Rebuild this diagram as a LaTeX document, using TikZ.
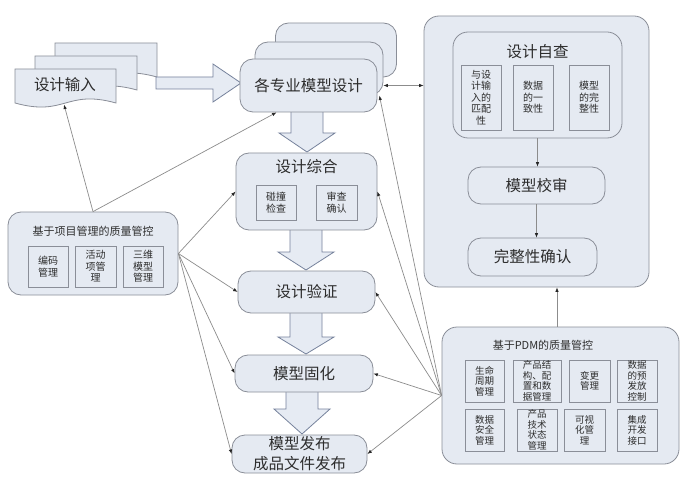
\documentclass[tikz,border=0pt]{standalone}
\usepackage{fontspec}
\setmainfont{Noto Sans CJK SC}
\usetikzlibrary{arrows.meta,calc}
\definecolor{boxfill}{RGB}{229,234,242}
\definecolor{boxline}{RGB}{138,142,152}
\definecolor{arrfill}{RGB}{230,235,243}
\definecolor{arrline}{RGB}{118,130,156}
\definecolor{lnc}{RGB}{140,140,140}
\definecolor{txt}{RGB}{45,45,45}
\begin{document}
\begin{tikzpicture}[x=1pt,y=-1pt,
  rbox/.style={draw=boxline, fill=boxfill, rounded corners=13pt, line width=0.8pt, inner sep=0pt, text=txt, align=center},
  ibox/.style={draw=boxline, fill=boxfill, line width=0.8pt, inner sep=0pt, text=txt, align=center},
  big/.style={font=\fontsize{15.5}{20}\selectfont},
  mid/.style={font=\fontsize{11}{13}\selectfont, text=txt},
  sm/.style={font=\fontsize{10}{11.5}\selectfont},
  xs/.style={font=\fontsize{9.5}{10.5}\selectfont},
  blk/.style={draw=arrline, fill=arrfill, line width=0.8pt, line join=miter},
  docst/.style={draw=boxline, fill=boxfill, line width=0.8pt},
  tipc/.tip={Latex[length=4.5pt,width=3.5pt,color=black!85]},
  conn/.style={draw=lnc, line width=0.7pt, -{tipc}},
  dconn/.style={draw=lnc, line width=0.7pt, {tipc}-{tipc}}]
\fill[white] (0,0) rectangle (680,481);
\useasboundingbox (0,0) rectangle (680,481);

% design input documents
\draw[docst] (55,43) -- (157,43) -- (157,77) .. controls (106,63) and (106,91) .. (55,77) -- cycle;
\draw[docst] (35,56) -- (137,56) -- (137,90) .. controls (86,76) and (86,104) .. (35,90) -- cycle;
\draw[docst] (15,69) -- (116,69) -- (116,103) .. controls (65.5,89) and (65.5,117) .. (15,103) -- cycle;
\node[big, text=txt] (docin) at (65,85) {设计输入};
\coordinate (docbot) at (64,104.5);

% block arrows
\draw[blk] (156,77) -- (213,77) -- (213,64) -- (241,83) -- (213,102) -- (213,89) -- (156,89) -- cycle;
\draw[blk] (291,111) -- (323,111) -- (323,133) -- (335,133) -- (307,152) -- (279,133) -- (291,133) -- cycle;
\draw[blk] (290,229) -- (322,229) -- (322,252) -- (334,252) -- (306,270) -- (278,252) -- (290,252) -- cycle;
\draw[blk] (290,312) -- (322,312) -- (322,337) -- (334,337) -- (306,354) -- (278,337) -- (290,337) -- cycle;
\draw[blk] (286,391) -- (318,391) -- (318,409) -- (330,409) -- (302,434) -- (274,409) -- (286,409) -- cycle;

% model design stack
\node[rbox, minimum width=121, minimum height=54] (mdc) at (336,50) {};
\node[rbox, minimum width=128, minimum height=53] (mdb) at (319,68.5) {};
\node[rbox, big, minimum width=137, minimum height=53] (md) at (308.5,85.5) {各专业模型设计};

% design synthesis
\node[rbox, minimum width=141, minimum height=77] (zh) at (306.5,191.5) {};
\node[big, text=txt] (zht) at (306.5,167) {设计综合};
\node[ibox, sm, minimum width=40, minimum height=35] (pz) at (276,202.5) {碰撞\\检查};
\node[ibox, sm, minimum width=41, minimum height=35] (sc) at (336.5,202.5) {审查\\确认};

\node[rbox, big, minimum width=137, minimum height=42] (yz) at (306.5,292) {设计验证};
\node[rbox, big, minimum width=138, minimum height=37] (gh) at (304,373.5) {模型固化};
\node[rbox, big, minimum width=135, minimum height=38] (fb) at (299.5,454) {模型发布\\成品文件发布};

% project management panel
\node[rbox, minimum width=170, minimum height=83] (pm) at (93,253.5) {};
\node[mid] (pmt) at (93,231) {基于项目管理的质量管控};
\node[ibox, sm, minimum width=40, minimum height=41] (bm) at (48,266.5) {编码\\管理};
\node[ibox, sm, minimum width=41, minimum height=41] (hd) at (95.5,266.5) {活动\\项管\\理};
\node[ibox, sm, minimum width=40, minimum height=41] (sw) at (143,266.5) {三维\\模型\\管理};

% right panel
\node[rbox, rounded corners=15pt, minimum width=225, minimum height=271] (rp) at (536.5,151.5) {};
\node[rbox, rounded corners=15pt, minimum width=169, minimum height=106] (zc) at (537.5,85) {};
\node[big, text=txt] (zct) at (537.5,52) {设计自查};
\node[ibox, sm, minimum width=40, minimum height=65] (pp) at (481,97.5) {与设\\计输\\入的\\匹配\\性};
\node[ibox, sm, minimum width=40, minimum height=65] (yx) at (533,97.5) {数据\\的一\\致性};
\node[ibox, sm, minimum width=40, minimum height=65] (wz) at (589,97.5) {模型\\的完\\整性};
\node[rbox, big, minimum width=137, minimum height=37] (js) at (536.5,185.5) {模型校审};
\node[rbox, big, minimum width=129, minimum height=38] (qr) at (532.5,257) {完整性确认};

% PDM panel
\node[rbox, rounded corners=15pt, minimum width=237, minimum height=137] (pdm) at (560.5,395.5) {};
\node[mid] (pdmt) at (543,345) {基于PDM的质量管控};
\node[ibox, xs, minimum width=39, minimum height=42] (p1) at (484.5,381) {生命\\周期\\管理};
\node[ibox, xs, minimum width=48, minimum height=42] (p2) at (537,381) {产品结\\构、配\\置和数\\据管理};
\node[ibox, xs, minimum width=41, minimum height=42] (p3) at (589.5,381) {变更\\管理};
\node[ibox, xs, minimum width=40, minimum height=42] (p4) at (637,381) {数据\\的预\\发放\\控制};
\node[ibox, xs, minimum width=39, minimum height=42] (p5) at (484.5,430) {数据\\安全\\管理};
\node[ibox, xs, minimum width=40, minimum height=42] (p6) at (537,430) {产品\\技术\\状态\\管理};
\node[ibox, xs, minimum width=41, minimum height=42] (p7) at (584.5,430) {可视\\化管\\理};
\node[ibox, xs, minimum width=40, minimum height=42] (p8) at (637,430) {集成\\开发\\接口};

% connectors from project management
\draw[conn] (pm.north) -- (docbot);
\draw[conn] (pm.north) -- ([xshift=-32pt]md.south);
\draw[conn] (pm.east) -- (zh.west);
\draw[conn] (pm.east) -- (yz.west);
\draw[conn] (pm.east) -- (gh.west);
\draw[conn] (pm.east) -- (fb.west);

% connectors from PDM
\draw[conn] (pdm.west) -- ([xshift=2pt,yshift=-10pt]md.east);
\draw[conn] (pdm.west) -- (zh.east);
\draw[conn] (pdm.west) -- (yz.east);
\draw[conn] (pdm.west) -- (gh.east);
\draw[conn] (pdm.west) -- (fb.east);
\draw[conn] ([xshift=-3.5pt]pdm.north) -- ([xshift=-3.5pt]pdm.north |- rp.south);

% right panel internal
\draw[dconn] ([xshift=6pt]md.east) -- (md.east -| rp.west);
\draw[conn] (zc.south) -- (zc.south |- js.north);
\draw[conn] (js.south) -- (js.south |- qr.north);
\end{tikzpicture}
\end{document}
